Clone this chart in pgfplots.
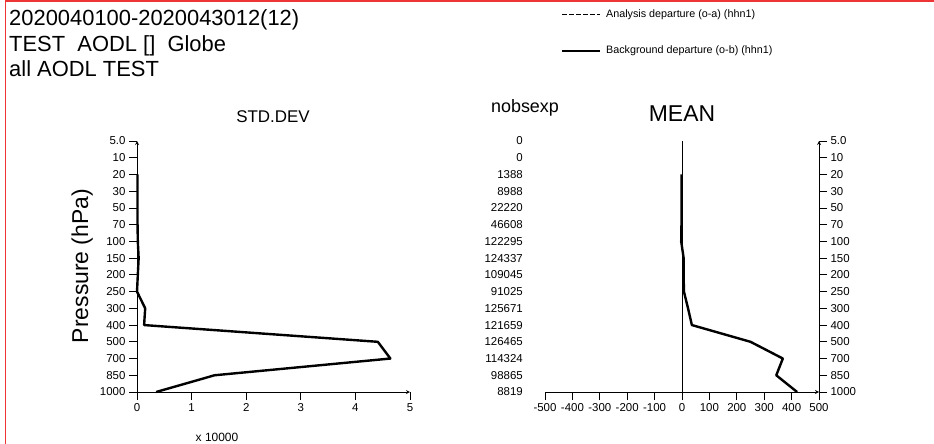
\documentclass[border=0pt]{standalone}
\usepackage{fontspec}
\setmainfont{Liberation Sans}
\usepackage{pgfplots}
\usepackage{pgfplotstable}
\pgfplotsset{compat=1.18}

% Pressure levels are plotted at equal spacing: lev = 0 is 1000 hPa, lev = 15 is 5 hPa.
% Standard deviation of the background departure (x 10000)
\pgfplotstableread{
lev  std
13   0.010
12   0.010
11   0.010
10   0.010
9    0.015
8    0.030
7    0.015
6    0.000
5    0.150
4    0.130
3    4.410
2    4.640
1    1.420
0    0.350
}\stddata

% Mean background departure
\pgfplotstableread{
lev  mean
13   -2
12   -2
11   -2
10   -2
9    -3
8    6
7    6
6    7
5    22
4    36
3    250
2    368
1    344
0    420
}\meandata

% Number of observations used at each level
\pgfplotstableread{
lev  n
15   0
14   0
13   1388
12   8988
11   22220
10   46608
9    122295
8    124337
7    109045
6    91025
5    125671
4    121659
3    126465
2    114324
1    98865
0    8819
}\nobsdata

\definecolor{framered}{RGB}{238,52,52}

\pgfplotsset{
  profile/.style={
    scale only axis, width=274bp, height=251bp,
    ymin=0, ymax=15, enlargelimits=false, clip=false,
    axis line style={-, line width=0.8bp},
    ytick={0,...,15},
    yticklabels={1000,850,700,500,400,300,250,200,150,100,70,50,30,20,10,5.0},
    tick label style={font=\fontsize{11.5}{13}\selectfont},
    /pgf/number format/assume math mode=true,
  },
  outticks/.style={
    tick align=outside, major tick length=8bp,
    tick style={black, line width=0.8bp},
  },
}

\begin{document}
\begin{tikzpicture}[x=1bp,y=1bp]
\path[use as bounding box, fill=white] (0,0) rectangle (934,-444);
\draw[framered, line width=1.6bp] (5.5,-444) -- (5.5,-1.2) -- (934,-1.2);

% header
\node[anchor=base west, font=\fontsize{22}{26}\selectfont, inner sep=0] at (9,-26) {2020040100-2020043012(12)};
\node[anchor=base west, font=\fontsize{22}{26}\selectfont, inner sep=0] at (9,-52) {TEST\ \ AODL []\ \ Globe};
\node[anchor=base west, font=\fontsize{22}{26}\selectfont, inner sep=0] at (9,-77) {all AODL TEST};

% legend
\draw[line width=1.2bp, dash pattern=on 4.5bp off 2.5bp] (562,-14.7) -- (600,-14.7);
\node[anchor=west, font=\fontsize{10.8}{12}\selectfont, inner sep=0] at (606,-14.7) {Analysis departure (o-a) (hhn1)};
\draw[line width=1.4bp] (562,-51) -- (600,-51);
\node[anchor=west, font=\fontsize{10.8}{12}\selectfont, inner sep=0] at (606,-51) {Background departure (o-b) (hhn1)};

% panel titles
\node[anchor=base, font=\fontsize{17}{20}\selectfont, inner sep=0] at (273,-123) {STD.DEV};
\node[anchor=base, font=\fontsize{18}{21}\selectfont, inner sep=0] at (525,-113) {nobsexp};
\node[anchor=base, font=\fontsize{23}{27}\selectfont, inner sep=0] at (682,-122) {MEAN};
\node[anchor=base, rotate=90, font=\fontsize{23}{27}\selectfont, inner sep=0] at (88,-266) {Pressure (hPa)};
\node[anchor=base, font=\fontsize{12}{14}\selectfont, inner sep=0] at (217,-441) {x 10000};

% standard deviation panel
\begin{axis}[profile,
  at={(137bp,-392bp)}, anchor=south west, width=273bp,
  xmin=0, xmax=5, xtick={0,...,5},
  axis x line=bottom, axis y line=left, outticks,
]
\addplot[black, line width=2.4bp, line join=round] table[x=std, y=lev] {\stddata};
\end{axis}

% mean panel
\begin{axis}[profile,
  at={(545bp,-392bp)}, anchor=south west,
  xmin=-500, xmax=500, xtick={-500,-400,...,500},
  axis x line=bottom, axis y line=right, outticks,
  yticklabel style={anchor=west},
]
\addplot[black, line width=0.8bp] coordinates {(0,0) (0,15)};
\addplot[black, line width=2.4bp, line join=round] table[x=mean, y=lev] {\meandata};
\addplot[draw=none, mark=none, nodes near coords, point meta=explicit symbolic,
  every node near coord/.append style={anchor=east, xshift=-22bp, inner sep=0,
    font=\fontsize{11.5}{13}\selectfont}]
  table[x expr=-500, y=lev, meta=n] {\nobsdata};
\end{axis}
\end{tikzpicture}
\end{document}
